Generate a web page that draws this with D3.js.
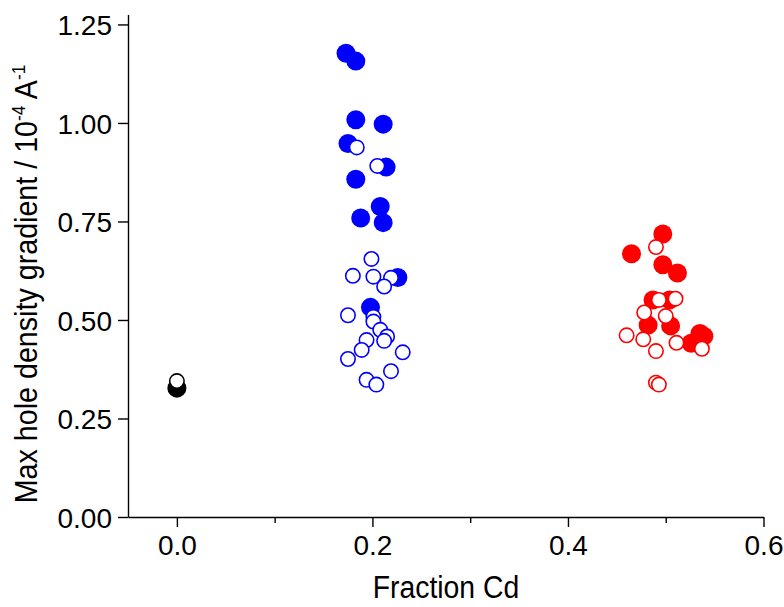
<!DOCTYPE html>
<html>
<head>
<meta charset="utf-8">
<script src="https://cdn.jsdelivr.net/npm/d3@7"></script>
<style>
  body { margin: 0; background: #fff; }
  svg text { font-family: "Liberation Sans", Arial, sans-serif; fill: #000; }
</style>
</head>
<body>
<svg width="784" height="607"></svg>
<script>
// fraction Cd, max gradient
var blackSolid = [[0.000, 0.327]];
var blackOpen = [[0.000, 0.345]];

var blueSolid = [
  [0.173, 1.177], [0.183, 1.157], [0.183, 1.008], [0.211, 0.997],
  [0.175, 0.948], [0.214, 0.888], [0.183, 0.857], [0.208, 0.788],
  [0.188, 0.759], [0.211, 0.747], [0.226, 0.608], [0.198, 0.532]
];
var blueOpen = [
  [0.184, 0.938], [0.205, 0.891], [0.199, 0.655], [0.180, 0.612],
  [0.201, 0.610], [0.219, 0.607], [0.212, 0.585], [0.175, 0.512],
  [0.201, 0.508], [0.201, 0.496], [0.208, 0.475], [0.215, 0.458],
  [0.212, 0.447], [0.194, 0.449], [0.189, 0.424], [0.231, 0.418],
  [0.175, 0.401], [0.219, 0.370], [0.194, 0.348], [0.204, 0.336]
];

var redSolid = [
  [0.497, 0.718], [0.465, 0.668], [0.497, 0.640], [0.512, 0.619],
  [0.487, 0.551], [0.504, 0.551], [0.482, 0.487], [0.505, 0.485],
  [0.535, 0.466], [0.539, 0.459], [0.526, 0.441]
];
var redOpen = [
  [0.490, 0.685], [0.493, 0.551], [0.510, 0.554], [0.478, 0.519],
  [0.500, 0.510], [0.460, 0.461], [0.477, 0.451], [0.511, 0.442],
  [0.537, 0.427], [0.490, 0.421], [0.490, 0.341], [0.493, 0.336]
];

var xTicks = [0.0, 0.2, 0.4, 0.6];
var xMinor = [0.1, 0.3, 0.5];
var yTicks = [0.00, 0.25, 0.50, 0.75, 1.00, 1.25];

var svg = d3.select("svg");
var x = d3.scaleLinear().domain([-0.05, 0.6]).range([128, 763.5]);
var y = d3.scaleLinear().domain([0, 1.275]).range([517, 14.6]);

// axes
var xAxis = svg.append("g").attr("transform", "translate(0,517)")
  .call(d3.axisBottom(x).tickValues(xTicks).tickFormat(d3.format(".1f")).tickSize(10).tickSizeOuter(0));
svg.append("g").attr("transform", "translate(0,517)")
  .call(d3.axisBottom(x).tickValues(xMinor).tickFormat("").tickSize(6).tickSizeOuter(0))
  .select(".domain").remove();
var yAxis = svg.append("g").attr("transform", "translate(128,0)")
  .call(d3.axisLeft(y).tickValues(yTicks).tickFormat(d3.format(".2f")).tickSize(10).tickSizeOuter(0));

svg.selectAll(".domain, .tick line").attr("stroke", "#000").attr("stroke-width", 1.4);
xAxis.selectAll("text").attr("font-size", 28).attr("dy", null).attr("y", 38);
yAxis.selectAll("text").attr("font-size", 28).attr("x", -16).attr("dy", "0.36em");
svg.selectAll(".tick text").attr("font-family", "Liberation Sans, Arial, sans-serif");

// labels (the original font is a bit narrow and tall)
svg.append("text").attr("transform", "translate(446,598) scale(0.9,1)")
  .attr("text-anchor", "middle").attr("font-size", 31.5).text("Fraction Cd");

var yl = svg.append("text").attr("transform", "translate(37,284) rotate(-90) scale(0.91,1)")
  .attr("text-anchor", "middle").attr("font-size", 31.5);
yl.append("tspan").text("Max hole density gradient / 10");
yl.append("tspan").attr("font-size", 19).attr("dy", -12).text("-4");
yl.append("tspan").attr("dy", 12).text(" A");
yl.append("tspan").attr("font-size", 19).attr("dy", -12).text("-1");

// points: solid first, open ones on top
function solid(data, col) {
  svg.append("g").selectAll("circle").data(data).enter().append("circle")
    .attr("cx", function(d) { return x(d[0]); })
    .attr("cy", function(d) { return y(d[1]); })
    .attr("r", 9.5).attr("fill", col);
}
function open(data, col) {
  svg.append("g").selectAll("circle").data(data).enter().append("circle")
    .attr("cx", function(d) { return x(d[0]); })
    .attr("cy", function(d) { return y(d[1]); })
    .attr("r", 7.2).attr("fill", "#fff").attr("stroke", col).attr("stroke-width", 1.6);
}
solid(blackSolid, "#000");
solid(blueSolid, "#0000ff");
solid(redSolid, "#ff0000");
open(blackOpen, "#000");
open(blueOpen, "#0000ff");
open(redOpen, "#ff0000");
</script>
</body>
</html>
